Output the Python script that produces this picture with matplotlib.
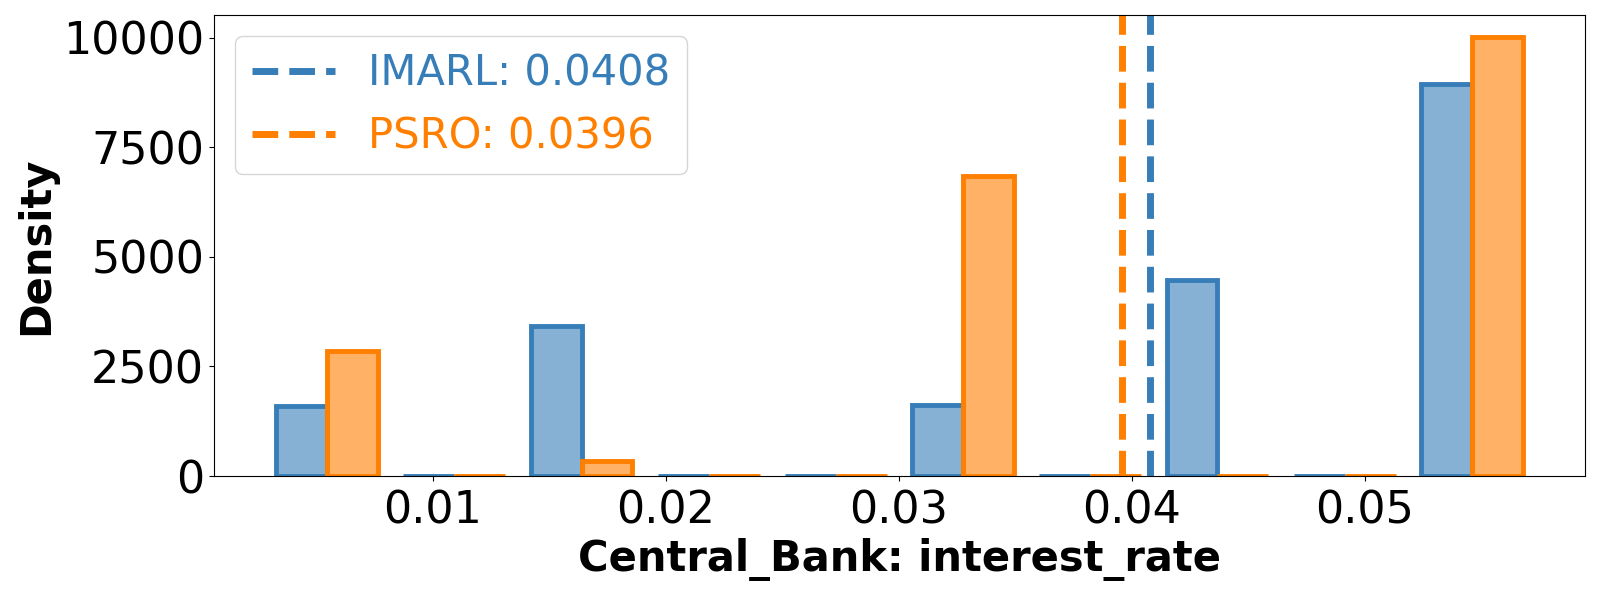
import matplotlib
matplotlib.use("Agg")
import matplotlib.pyplot as plt
import numpy as np

# Data
bin_edges = [0.00273, 0.00819, 0.01365, 0.01911, 0.02457, 0.03003,
             0.03549, 0.04095, 0.04641, 0.05187, 0.05733]
imarl_density = [1593, 0, 3420, 0, 0, 1610, 0, 4463, 0, 8945]
psro_density = [2850, 0, 338, 0, 0, 6845, 0, 0, 0, 10018]
imarl_mean = 0.0408
psro_mean = 0.0396
series_names = ["IMARL", "PSRO"]
yticks = [0, 2500, 5000, 7500, 10000]
xticks = [0.01, 0.02, 0.03, 0.04, 0.05]

blue = "#377eb8"
orange = "#ff7f00"

fig = plt.figure(figsize=(16, 6), dpi=100)
ax = fig.add_axes([214 / 1600, 1 - 476 / 600, (1585 - 214) / 1600, (476 - 15) / 600])

left_edges = bin_edges[:-1]
n, bins, patches = ax.hist([left_edges, left_edges], bins=bin_edges,
                           weights=[imarl_density, psro_density],
                           histtype="bar", linewidth=3.5)
for container, col in zip(patches, [blue, orange]):
    for p in container:
        p.set_facecolor(matplotlib.colors.to_rgba(col, 0.6))
        p.set_edgecolor(col)

ax.axvline(imarl_mean, color=blue, linestyle="--", linewidth=5,
           label=f"{series_names[0]}: {imarl_mean:.4f}")
ax.axvline(psro_mean, color=orange, linestyle="--", linewidth=5,
           label=f"{series_names[1]}: {psro_mean:.4f}")

ax.set_yticks(yticks)
ax.set_xticks(xticks)
ax.tick_params(labelsize=32)
ax.tick_params(axis="x", pad=6)
ax.set_xlabel("Central_Bank: interest_rate", fontsize=30, fontweight="bold")
ax.set_ylabel("Density", fontsize=30, fontweight="bold")

leg = ax.legend(loc="upper left", fontsize=30)
for txt, col in zip(leg.get_texts(), [blue, orange]):
    txt.set_color(col)

fig.savefig("out.png", dpi=100)
